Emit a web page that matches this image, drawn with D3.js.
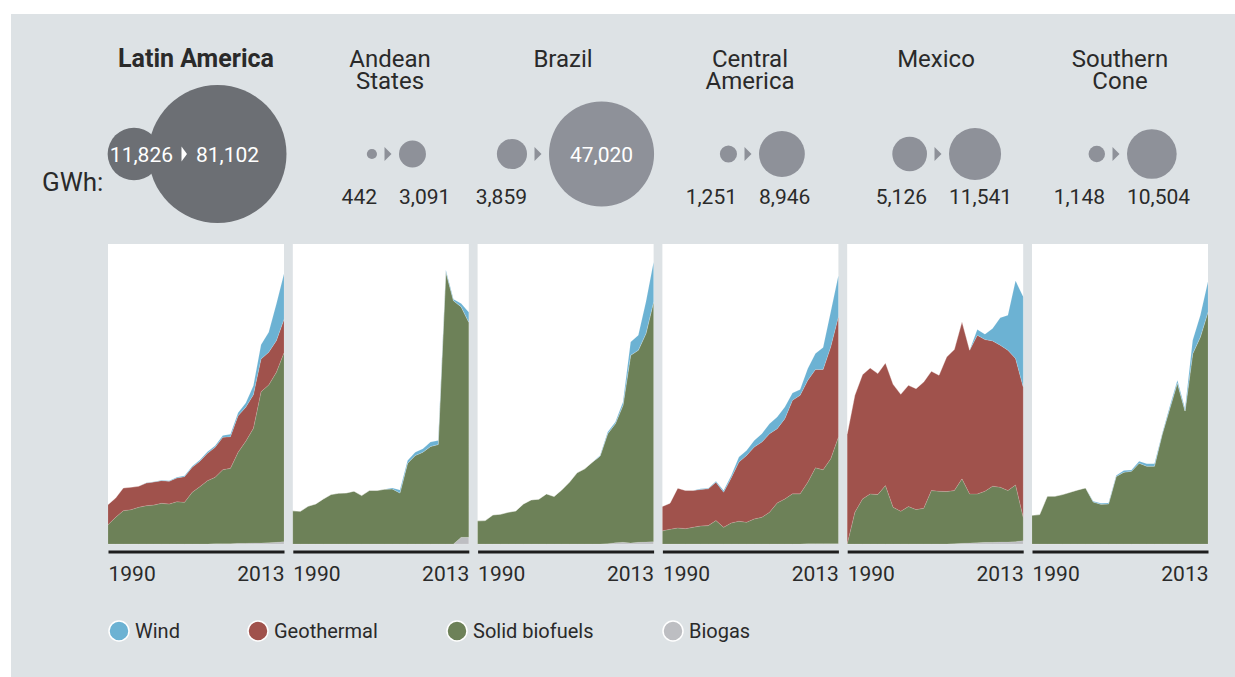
<!DOCTYPE html>
<html lang="en">

<head>
  <meta charset="UTF-8">
  <title>Renewable power in Latin America, 1990-2013</title>
  <style>
    body { margin: 0; background: #fff; }
    text { font-family: Roboto, "Open Sans", sans-serif; fill: #2a2a2a; }
  </style>
</head>

<body>
  <script src="https://d3js.org/d3.v7.min.js"></script>
  <script>
    const width = 1235, height = 677;

    // ---- data (GWh) ----
    const years = [1990, 1991, 1992, 1993, 1994, 1995, 1996, 1997, 1998, 1999, 2000, 2001,
      2002, 2003, 2004, 2005, 2006, 2007, 2008, 2009, 2010, 2011, 2012, 2013];
    const regions = ["Latin America", "Andean States", "Brazil", "Central America", "Mexico", "Southern Cone"];
    const total1990 = [11826, 442, 3859, 1251, 5126, 1148];
    const total2013 = [81102, 3091, 47020, 8946, 11541, 10504];
    const tickYears = [1990, 2013];

    const laWind = [0, 0, 10, 20, 30, 50, 100, 150, 200, 250, 300, 350, 400, 450, 500, 550, 700, 900, 1300, 2700, 4300, 6000, 11000, 13700];
    const laGeo = [6000, 5800, 6800, 6700, 6300, 6800, 6900, 6800, 6800, 7100, 7700, 7500, 7600, 8200, 9000, 9700, 9500, 11000, 10200, 10100, 9800, 9800, 9500, 10000];
    const laSolid = [5800, 8000, 10000, 10300, 11000, 11500, 11700, 12200, 12000, 12700, 12500, 15500, 17200, 19000, 19900, 22200, 22600, 27300, 30600, 34400, 45400, 47300, 51000, 56700];
    const laBiogas = [0, 0, 0, 0, 0, 0, 0, 0, 0, 0, 0, 0, 0, 0, 100, 100, 100, 200, 200, 300, 300, 400, 500, 700];

    const anWind = [0, 0, 0, 0, 0, 0, 0, 0, 0, 0, 0, 0, 0, 13, 40, 36, 45, 45, 58, 53, 22, 22, 45, 134];
    const anGeo = [0, 0, 0, 0, 0, 0, 0, 0, 0, 0, 0, 0, 0, 0, 0, 0, 0, 0, 0, 0, 0, 0, 0, 0];
    const anSolid = [442, 436, 503, 534, 601, 659, 677, 681, 704, 646, 713, 713, 730, 735, 681, 1078, 1180, 1225, 1301, 1327, 3630, 3243, 3073, 2868];
    const anBiogas = [0, 0, 0, 0, 0, 0, 0, 0, 0, 0, 0, 0, 0, 0, 0, 0, 0, 0, 0, 0, 0, 0, 89, 89];

    const brWind = [0, 0, 0, 0, 0, 0, 0, 0, 0, 0, 0, 0, 0, 0, 0, 0, 111, 278, 278, 557, 2227, 2506, 5290, 6650];
    const brGeo = [0, 0, 0, 0, 0, 0, 0, 0, 0, 0, 0, 0, 0, 0, 0, 0, 0, 0, 0, 0, 0, 0, 0, 0];
    const brSolid = [3859, 3898, 4844, 4956, 5290, 5512, 6682, 7350, 7461, 8352, 7907, 9020, 10301, 11860, 12528, 13642, 14644, 18319, 19822, 22829, 31292, 32016, 34744, 39980];
    const brBiogas = [0, 0, 0, 0, 0, 0, 0, 0, 0, 0, 0, 0, 0, 0, 0, 0, 0, 56, 223, 278, 167, 278, 334, 390];

    const caWind = [0, 0, 0, 0, 0, 22, 22, 33, 56, 78, 167, 167, 223, 279, 334, 390, 390, 245, 189, 390, 535, 735, 1170, 1371];
    const caGeo = [813, 869, 1326, 1270, 1225, 1214, 1225, 1281, 1170, 1504, 1972, 2228, 2395, 2507, 2618, 2473, 2674, 3119, 3286, 3398, 3275, 3342, 3732, 4010];
    const caSolid = [438, 490, 535, 512, 557, 602, 613, 780, 557, 702, 758, 724, 836, 891, 1058, 1370, 1504, 1671, 1671, 2051, 2530, 2463, 2831, 3555];
    const caBiogas = [0, 0, 0, 0, 0, 0, 0, 0, 0, 0, 0, 0, 0, 0, 0, 0, 0, 0, 0, 10, 10, 10, 10, 10];

    const mxWind = [0, 0, 0, 0, 0, 0, 0, 0, 0, 0, 0, 0, 0, 0, 0, 0, 0, 265, 250, 577, 1278, 1637, 3632, 4214];
    const mxGeo = [5126, 5457, 5799, 5877, 5644, 5722, 5737, 5457, 5659, 5644, 5893, 5566, 5410, 6283, 6579, 7327, 6704, 7405, 7078, 6782, 6626, 6548, 5893, 6080];
    const mxSolid = [0, 1481, 2105, 2339, 2307, 2728, 1715, 1528, 1746, 1606, 1668, 2494, 2463, 2448, 2479, 3009, 2292, 2276, 2385, 2619, 2557, 2401, 2650, 1091];
    const mxBiogas = [0, 0, 0, 0, 0, 0, 0, 0, 0, 0, 0, 0, 0, 0, 16, 31, 47, 62, 78, 78, 94, 94, 109, 156];

    const scWind = [0, 0, 0, 0, 0, 0, 0, 0, 27, 40, 40, 40, 67, 53, 80, 94, 94, 40, 94, 107, 94, 534, 868, 1219];
    const scGeo = [0, 0, 0, 0, 0, 0, 0, 0, 0, 0, 0, 0, 0, 0, 0, 0, 0, 0, 0, 0, 0, 0, 0, 0];
    const scSolid = [1148, 1176, 1910, 1910, 1977, 2071, 2164, 2244, 1683, 1590, 1603, 2699, 2872, 2912, 3233, 3113, 3113, 4369, 5411, 6440, 5317, 7615, 8283, 9285];
    const scBiogas = [0, 0, 0, 0, 0, 0, 0, 0, 0, 0, 0, 0, 0, 0, 0, 0, 0, 0, 0, 0, 0, 0, 0, 0];

    // per panel y maximum
    const yMax = [90000, 4000, 50000, 10000, 14000, 12000];

    const seriesKeys = ["biogas", "solid", "geothermal", "wind"];
    const legendLabels = ["Wind", "Geothermal", "Solid biofuels", "Biogas"];
    const legendKeys = ["wind", "geothermal", "solid", "biogas"];
    const colors = { wind: "#6cb2d3", geothermal: "#a0524c", solid: "#6d8158", biogas: "#bdbec2" };

    const regionSeries = [
      [laWind, laGeo, laSolid, laBiogas],
      [anWind, anGeo, anSolid, anBiogas],
      [brWind, brGeo, brSolid, brBiogas],
      [caWind, caGeo, caSolid, caBiogas],
      [mxWind, mxGeo, mxSolid, mxBiogas],
      [scWind, scGeo, scSolid, scBiogas]
    ];

    const tables = regionSeries.map(([w, g, s, b]) =>
      years.map((y, i) => ({ year: y, wind: w[i], geothermal: g[i], solid: s[i], biogas: b[i] })));

    // ---- layout ----
    const panelTop = 244, panelBottom = 544;
    const titleX = [196, 390, 563, 750, 936, 1120];
    const arrowX = [184, 388, 538, 748, 938, 1116];
    const circleY = 154;

    const svg = d3.select("body").append("svg")
      .attr("width", width)
      .attr("height", height);

    svg.append("rect")
      .attr("x", 11).attr("y", 14)
      .attr("width", width - 11).attr("height", height - 14)
      .attr("fill", "#dde2e5");

    const band = d3.scaleBand()
      .domain(regions)
      .range([108, 1208])
      .paddingInner(0.0476);

    const r = d3.scaleSqrt().domain([0, 81102]).range([0, 69]);

    const stack = d3.stack().keys(seriesKeys);
    const fmt = d3.format(",");

    // ---- headers ----
    const titleLines = d => d === "Latin America" ? [d] : d.split(" ");

    regions.forEach((name, i) => {
      const g = svg.append("g");
      g.append("text")
        .attr("x", titleX[i])
        .attr("y", 67)
        .attr("text-anchor", "middle")
        .style("font-size", i === 0 ? "25px" : "24px")
        .style("font-weight", i === 0 ? "700" : "400")
        .selectAll("tspan")
        .data(titleLines(name))
        .join("tspan")
        .attr("x", titleX[i])
        .attr("dy", (d, j) => j ? 22 : 0)
        .text(d => d);

      const a = arrowX[i];
      const rs = r(total1990[i]), rb = r(total2013[i]);
      const fill = i === 0 ? "#6c6f74" : "#8e9199";

      if (i === 0) {
        g.append("circle").attr("cx", a - 50).attr("cy", circleY).attr("r", rs).attr("fill", fill);
        g.append("circle").attr("cx", a - 35.5 + rb).attr("cy", circleY).attr("r", rb).attr("fill", fill);
        g.append("path")
          .attr("d", `M${a - 2.5},${circleY - 7.5}L${a + 3},${circleY}L${a - 2.5},${circleY + 7.5}Z`)
          .attr("fill", "#fff");
        g.append("text").attr("x", a - 11).attr("y", circleY + 8)
          .attr("text-anchor", "end").style("font-size", "21px").style("fill", "#fff")
          .text(fmt(total1990[i]));
        g.append("text").attr("x", a + 12).attr("y", circleY + 8)
          .style("font-size", "21px").style("fill", "#fff")
          .text(fmt(total2013[i]));
      } else {
        g.append("circle").attr("cx", a - 11 - rs).attr("cy", circleY).attr("r", rs).attr("fill", fill);
        g.append("circle").attr("cx", a + 11 + rb).attr("cy", circleY).attr("r", rb).attr("fill", fill);
        g.append("path")
          .attr("d", `M${a - 3.5},${circleY - 7}L${a + 3.5},${circleY}L${a - 3.5},${circleY + 7}Z`)
          .attr("fill", fill);
        g.append("text").attr("x", a - 11).attr("y", 204)
          .attr("text-anchor", "end").style("font-size", "21px")
          .text(fmt(total1990[i]));
        if (rb > 40) {
          g.append("text").attr("x", a + 11 + rb).attr("y", circleY + 8)
            .attr("text-anchor", "middle").style("font-size", "21px").style("fill", "#fff")
            .text(fmt(total2013[i]));
        } else {
          g.append("text").attr("x", a + 11).attr("y", 204)
            .style("font-size", "21px")
            .text(fmt(total2013[i]));
        }
      }
    });

    svg.append("text")
      .attr("x", 42).attr("y", 191)
      .style("font-size", "26px")
      .text("GWh:");

    // ---- panels ----
    regions.forEach((name, i) => {
      const x0 = band(name), x1 = x0 + band.bandwidth();
      const x = d3.scaleLinear().domain([1990, 2013]).range([x0, x1]);
      const y = d3.scaleLinear().domain([0, yMax[i]]).range([panelBottom, panelTop]);

      const g = svg.append("g");

      g.append("rect")
        .attr("x", x0).attr("y", panelTop)
        .attr("width", band.bandwidth()).attr("height", panelBottom - panelTop)
        .attr("fill", "#fff");

      const area = d3.area()
        .x(d => x(d.data.year))
        .y0(d => y(d[0]))
        .y1(d => y(d[1]));

      g.selectAll("path.layer")
        .data(stack(tables[i]))
        .join("path")
        .attr("class", "layer")
        .attr("d", area)
        .attr("fill", d => colors[d.key])
        .attr("stroke", "rgba(255,255,255,0.25)")
        .attr("stroke-width", 0.5);

      const axis = g.append("g")
        .attr("transform", `translate(0,551.5)`)
        .call(d3.axisBottom(x)
          .tickValues(tickYears)
          .tickFormat(d3.format("d"))
          .tickSize(0)
          .tickPadding(14.5));

      axis.select(".domain")
        .attr("stroke", "#1e1e1e")
        .attr("stroke-width", 3);

      axis.selectAll(".tick text")
        .attr("text-anchor", (d, j) => j === 0 ? "start" : "end")
        .style("font-size", "21px")
        .style("font-family", "Roboto, sans-serif")
        .attr("fill", "#2a2a2a");
    });

    // ---- legend ----
    const legendX = [119, 258, 457, 673];
    const legend = svg.append("g")
      .selectAll("g")
      .data(legendKeys)
      .join("g")
      .attr("transform", (d, j) => `translate(${legendX[j]},631)`);

    legend.append("circle")
      .attr("r", 10)
      .attr("fill", d => colors[d])
      .attr("stroke", "#fff")
      .attr("stroke-width", 1.5);

    legend.append("text")
      .attr("x", 16)
      .attr("y", 7)
      .style("font-size", "20px")
      .text((d, j) => legendLabels[j]);
  </script>
</body>

</html>
